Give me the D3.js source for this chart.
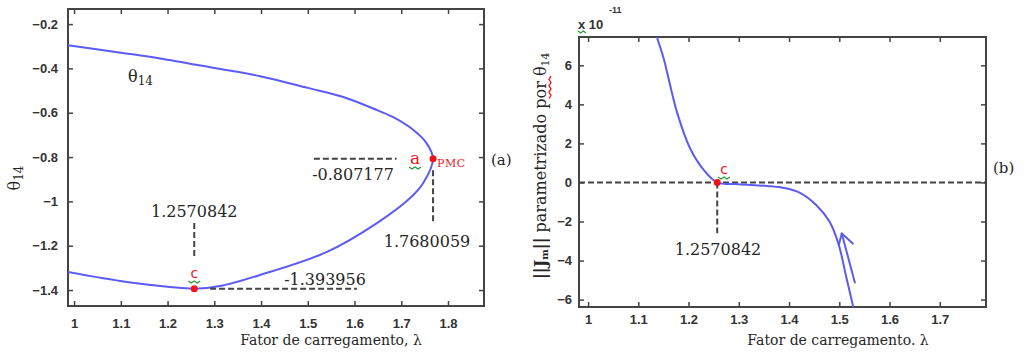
<!DOCTYPE html>
<html>
<head>
<meta charset="utf-8">
<script src="https://cdn.jsdelivr.net/npm/d3@7"></script>
<style>
  body { margin: 0; background: #fff; }
  .tick text { font-family: "Liberation Sans", Arial, sans-serif; font-weight: bold; font-size: 13px; fill: #333; }
  .tick line { stroke: #444; stroke-width: 1.5; }
  .serif { font-family: "DejaVu Serif", serif; fill: #262626; }
</style>
</head>
<body>
<svg id="chart" width="1030" height="354"></svg>
<script>
// ---- data ----
// (a) theta_14 vs loading factor, upper branch then lower branch
const upperLambda = [0.987, 1.10, 1.184, 1.30, 1.398, 1.50, 1.576, 1.64, 1.683, 1.726, 1.754, 1.7680059];
const upperTheta  = [-0.295, -0.329, -0.355, -0.398, -0.435, -0.488, -0.529, -0.581, -0.62, -0.678, -0.737, -0.807177];
const lowerLambda = [1.7680059, 1.747, 1.719, 1.648, 1.541, 1.398, 1.312, 1.2570842, 1.205, 1.113, 0.987];
const lowerTheta  = [-0.807177, -0.917, -0.985, -1.098, -1.228, -1.332, -1.382, -1.393956, -1.386, -1.364, -1.319];

// (b) ||Jm|| parametrized by theta_14 (x 1e-11)
const jLambda = [1.128, 1.137, 1.150, 1.177, 1.203, 1.229, 1.2570842, 1.30, 1.356, 1.39, 1.421, 1.455, 1.481, 1.499, 1.514, 1.527, 1.529];
const jValue  = [8.3, 7.45, 6.4, 3.6, 1.75, 0.68, 0, -0.09, -0.18, -0.28, -0.52, -1.18, -2.03, -3.2, -4.86, -6.3, -6.6];

// hand-drawn arrow in (b): tip, then the three strokes ending points
const arrowTip = [1.505, -2.62];
const arrowEndsLambda = [1.531, 1.527, 1.499];
const arrowEndsValue  = [-5.13, -3.13, -3.2];

// marked points
const pmcLambda = 1.7680059, pmcTheta = -0.807177;
const cLambda = 1.2570842, cTheta = -1.393956;

// ticks
const ticksXa = [1, 1.1, 1.2, 1.3, 1.4, 1.5, 1.6, 1.7, 1.8];
const ticksYa = [-0.2, -0.4, -0.6, -0.8, -1, -1.2, -1.4];
const ticksXb = [1, 1.1, 1.2, 1.3, 1.4, 1.5, 1.6, 1.7];
const ticksYb = [6, 4, 2, 0, -2, -4, -6];

const svg = d3.select("#chart");
const blue = "#5b5bf5";
const red = "#f0141a";
const green = "#2c9a3c";
const frameColor = "#444";

function squiggle(parent, x, y, w, color) {
  let d = `M${x},${y}`;
  const n = Math.round(w / 3);
  for (let i = 1; i <= n; i++) d += `L${x + i * w / n},${y + (i % 2 ? 2 : 0)}`;
  parent.append("path").attr("d", d).attr("fill", "none").attr("stroke", color || green).attr("stroke-width", 1.3);
}

function drawPanel(id, box, xs, ys, xTicks, yTicks, labelGap) {
  const g = svg.append("g").attr("id", id);
  g.append("clipPath").attr("id", id + "-clip")
    .append("rect").attr("x", box.l).attr("y", box.t).attr("width", box.r - box.l).attr("height", box.b - box.t);

  const ax = [
    [d3.axisBottom(xs).tickValues(xTicks).tickFormat(d3.format("")), `translate(0,${box.b})`],
    [d3.axisTop(xs).tickValues(xTicks).tickFormat(""), `translate(0,${box.t})`],
    [d3.axisLeft(ys).tickValues(yTicks).tickFormat(d3.format("")), `translate(${box.l},0)`],
    [d3.axisRight(ys).tickValues(yTicks).tickFormat(""), `translate(${box.r},0)`]
  ];
  ax.forEach(([a, tr]) => {
    const ag = g.append("g").attr("transform", tr)
      .call(a.tickSizeInner(-5).tickSizeOuter(0).tickPadding(labelGap));
    ag.select(".domain").remove();
  });
  g.selectAll(".tick text").filter(function () { return this.textContent === ""; }).remove();

  g.append("rect")
    .attr("x", box.l).attr("y", box.t)
    .attr("width", box.r - box.l).attr("height", box.b - box.t)
    .attr("fill", "none").attr("stroke", frameColor).attr("stroke-width", 2);
  return g;
}

const dash = (g, x1, y1, x2, y2) => g.append("line")
  .attr("x1", x1).attr("y1", y1).attr("x2", x2).attr("y2", y2)
  .attr("stroke", frameColor).attr("stroke-width", 2).attr("stroke-dasharray", "6,3");

// ---------- panel (a) ----------
const boxA = { l: 68, r: 484, t: 9, b: 306 };
const xA = d3.scaleLinear().domain([0.987, 1.877]).range([boxA.l, boxA.r]);
const yA = d3.scaleLinear().domain([-0.132, -1.472]).range([boxA.t, boxA.b]);
const gA = drawPanel("pa", boxA, xA, yA, ticksXa, ticksYa, 10);
gA.selectAll("g .tick text").filter(function () { return this.getAttribute("dy") === "0.71em"; }).attr("dy", "0.95em");

const lineA = d3.line().x(d => xA(d[0])).y(d => yA(d[1])).curve(d3.curveCatmullRom);
const ptsA = upperLambda.map((l, i) => [l, upperTheta[i]])
  .concat(lowerLambda.slice(1).map((l, i) => [l, lowerTheta[i + 1]]));
gA.append("path").datum(ptsA).attr("d", lineA)
  .attr("clip-path", "url(#pa-clip)")
  .attr("fill", "none").attr("stroke", blue).attr("stroke-width", 2);

dash(gA, xA(1.513), yA(pmcTheta), xA(1.69), yA(pmcTheta));
dash(gA, xA(pmcLambda), yA(-0.86), xA(pmcLambda), yA(-1.10));
dash(gA, xA(cLambda), yA(-1.098), xA(cLambda), yA(-1.256));
dash(gA, xA(1.291), yA(cTheta), xA(1.605), yA(cTheta));

gA.append("circle").attr("cx", xA(pmcLambda)).attr("cy", yA(pmcTheta)).attr("r", 3.5).attr("fill", red);
gA.append("circle").attr("cx", xA(cLambda)).attr("cy", yA(cTheta)).attr("r", 3.5).attr("fill", red);

const tA = (x, y, s) => gA.append("text").attr("class", "serif")
  .attr("x", x).attr("y", y).attr("text-anchor", "middle")
  .style("font-size", "16px").text(s);

tA(353, 180, "-0.807177");
tA(427, 247, "1.7680059");
tA(xA(cLambda), 217, "1.2570842");
tA(325, 285, "-1.393956");

// red labels
gA.append("text").attr("x", 415).attr("y", 164).attr("text-anchor", "middle")
  .style("font-family", "DejaVu Serif, serif").style("font-size", "17px").attr("fill", red).text("a");
squiggle(gA, 409, 167, 12);
gA.append("text").attr("x", 437).attr("y", 167)
  .style("font-family", "DejaVu Serif, serif").style("font-size", "11px").style("letter-spacing", "0.5px")
  .attr("fill", red).text("PMC");
gA.append("text").attr("x", xA(cLambda)).attr("y", 278).attr("text-anchor", "middle")
  .style("font-family", "DejaVu Sans, sans-serif").style("font-size", "14px").attr("fill", red).text("c");
squiggle(gA, xA(cLambda) - 6, 281, 12);

// curve name
const th = gA.append("text").attr("class", "serif").attr("x", 128).attr("y", 82).style("font-size", "16px");
th.append("tspan").text("θ");
th.append("tspan").attr("dy", 3).style("font-size", "12px").text("14");

// axis labels
svg.append("text").attr("class", "serif").attr("x", 331).attr("y", 345)
  .attr("text-anchor", "middle").style("font-size", "14px").text("Fator de carregamento, λ");
const yl = svg.append("text").attr("class", "serif")
  .attr("transform", "translate(20,178) rotate(-90)").attr("text-anchor", "middle").style("font-size", "16px");
yl.append("tspan").text("θ");
yl.append("tspan").attr("dy", 3).style("font-size", "12px").text("14");
svg.append("text").attr("class", "serif").attr("x", 491).attr("y", 165)
  .style("font-size", "15px").text("(a)");

// ---------- panel (b) ----------
const boxB = { l: 579, r: 986, t: 37, b: 307 };
const xB = d3.scaleLinear().domain([0.982, 1.792]).range([boxB.l, boxB.r]);
const yB = d3.scaleLinear().domain([7.45, -6.38]).range([boxB.t, boxB.b]);
const gB = drawPanel("pb", boxB, xB, yB, ticksXb, ticksYb, 7);
gB.selectAll("g .tick text").filter(function () { return this.getAttribute("dy") === "0.71em"; }).attr("dy", "0.8em");

dash(gB, boxB.l, yB(0), boxB.r, yB(0));
dash(gB, xB(cLambda), yB(0), xB(cLambda), yB(-2.6));

const lineB = d3.line().x(d => xB(d[0])).y(d => yB(d[1])).curve(d3.curveCatmullRom);
gB.append("path").datum(jLambda.map((l, i) => [l, jValue[i]])).attr("d", lineB)
  .attr("clip-path", "url(#pb-clip)")
  .attr("fill", "none").attr("stroke", blue).attr("stroke-width", 2);

arrowEndsLambda.forEach((l, i) => {
  gB.append("line")
    .attr("x1", xB(arrowTip[0])).attr("y1", yB(arrowTip[1]))
    .attr("x2", xB(l)).attr("y2", yB(arrowEndsValue[i]))
    .attr("stroke", blue).attr("stroke-width", 2).attr("stroke-linecap", "round");
});

gB.append("circle").attr("cx", xB(cLambda)).attr("cy", yB(0)).attr("r", 3.5).attr("fill", red);
gB.append("text").attr("x", 724).attr("y", 174).attr("text-anchor", "middle")
  .style("font-family", "DejaVu Sans, sans-serif").style("font-size", "14px").attr("fill", red).text("c");
squiggle(gB, 718, 177, 12);

gB.append("text").attr("class", "serif").attr("x", 718).attr("y", 255)
  .attr("text-anchor", "middle").style("font-size", "16px").text("1.2570842");

// exponent
svg.append("text").attr("x", 578).attr("y", 29)
  .style("font-family", "Liberation Sans, Arial, sans-serif").style("font-weight", "bold")
  .style("font-size", "13px").attr("fill", "#333").text("x 10");
svg.append("text").attr("x", 609).attr("y", 13)
  .style("font-family", "Liberation Sans, Arial, sans-serif").style("font-weight", "bold")
  .style("font-size", "9px").attr("fill", "#333").text("-11");
squiggle(svg, 578, 31, 8);

svg.append("text").attr("class", "serif").attr("x", 838).attr("y", 345)
  .attr("text-anchor", "middle").style("font-size", "14px").text("Fator de carregamento. λ");

// rotated y label of (b), starting at the bottom
const yg = svg.append("g").attr("transform", "translate(546,279) rotate(-90)");
const yr = yg.append("text").attr("class", "serif").attr("x", 0).attr("y", 0).style("font-size", "16px");
yr.append("tspan").style("font-weight", "bold").text("||J");
yr.append("tspan").attr("dy", 2).style("font-size", "10px").style("font-weight", "bold").text("m");
yr.append("tspan").attr("dy", -2).style("font-weight", "bold").text("||");
yr.append("tspan").text(" parametrizado  ");
yr.append("tspan").text("por");
yr.append("tspan").text(" θ");
yr.append("tspan").attr("dy", 3).style("font-size", "11px").text("14");

// red spell-check wave under "por"
(function () {
  const full = yr.text();
  const i0 = full.indexOf("por");
  const node = yr.node();
  const a = node.getStartPositionOfChar(i0).x;
  const b = node.getEndPositionOfChar(i0 + 2).x;
  squiggle(yg, a, 3, b - a, red);
})();

svg.append("text").attr("class", "serif").attr("x", 993).attr("y", 173)
  .style("font-size", "15px").text("(b)");
</script>
</body>
</html>
